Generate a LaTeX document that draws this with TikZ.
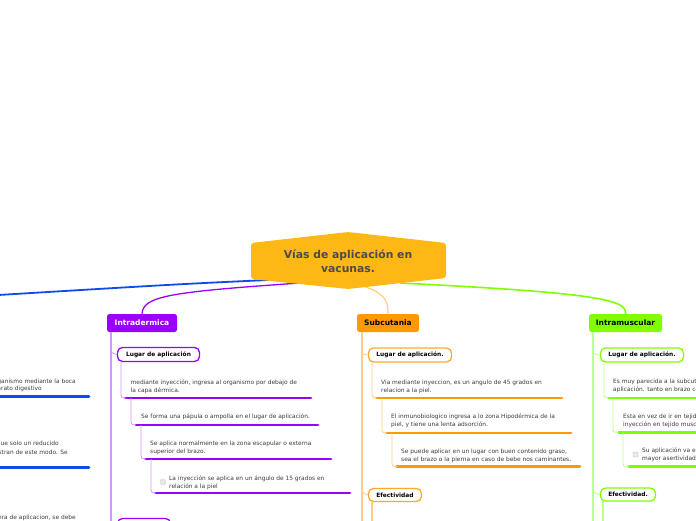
\documentclass[tikz,border=0pt]{standalone}
\usepackage{fontspec}
\setmainfont{DejaVu Sans}
\definecolor{pur}{RGB}{155,0,255}
\definecolor{lpur}{RGB}{210,150,255}
\definecolor{ora}{RGB}{255,153,0}
\definecolor{ora2}{RGB}{255,170,40}
\definecolor{lora}{RGB}{255,205,130}
\definecolor{grn}{RGB}{128,255,0}
\definecolor{lgrn}{RGB}{190,255,140}
\definecolor{blu}{RGB}{15,75,235}
\definecolor{hub}{RGB}{253,184,21}
\definecolor{txt}{RGB}{60,60,60}
\definecolor{ttl}{RGB}{75,75,75}
\begin{document}
\begin{tikzpicture}[x=1pt,y=-1pt,
  body/.style={font=\fontsize{5.9}{8}\selectfont, text=txt, align=left, inner sep=0pt, anchor=north west},
  bodyr/.style={font=\fontsize{5.9}{8}\selectfont, text=txt, inner sep=0pt, anchor=north east},
  ul/.style={line width=2.8pt, line cap=round},
  vline/.style={line width=1.6pt},
  thinc/.style={line width=0.8pt},
  mainbox/.style={rounded corners=2.5pt, minimum height=18pt, inner sep=0pt, font=\fontsize{7.5}{9}\selectfont\bfseries},
  subbox/.style={draw, line width=1.3pt, rounded corners=5pt, fill=white, minimum height=14pt, inner sep=0pt, font=\fontsize{5.9}{7}\selectfont\bfseries, text=black},
  chk/.style={draw=gray!45, fill=gray!18, rounded corners=1pt, minimum size=5pt, inner sep=0pt}
]
\useasboundingbox (0,0) rectangle (696,520);
\clip (0,0) rectangle (696,520);

% ---- hub connectors
\coordinate (hb) at (290,279);
\coordinate (hp) at (300,283);
\coordinate (ho) at (360,285);
\coordinate (hg) at (400,283);
\coordinate (bl) at (-10,295.5);
\draw[blu, line width=1.8pt] (hb) .. controls (180,284) .. (bl);

% ---- main boxes
\node[mainbox, fill=pur, text=white, minimum width=70pt] (idm) at (142,323) {Intradermica};
\node[mainbox, fill=ora, text=black, minimum width=62pt] (sub) at (388,323) {Subcutania};
\node[mainbox, fill=grn, text=black, minimum width=73pt] (imu) at (625.5,323) {Intramuscular};

\draw[pur, line width=1.3pt] (hp) .. controls (170,292) and (143,296) .. (idm.north);
\draw[lora, line width=1.2pt] (ho) .. controls (385,293) and (388,300) .. (sub.north);
\draw[grn, line width=1.6pt] (hg) .. controls (600,293) and (627,300) .. (imu.north);

% ---- hub
\fill[hub, rounded corners=3pt] (251,243) -- (348,232) -- (446,243) -- (446,278) -- (348,289) -- (251,279) -- cycle;
\node[font=\fontsize{10.8}{14}\selectfont\bfseries, text=ttl, align=center, inner sep=0pt] (hubt) at (348,261) {Vías de aplicación en\\vacunas.};

% ================= Intradermica
\draw[lpur, vline] (111,332) -- (111,530);
\node[subbox, draw=pur, minimum width=82pt] (ilug) at (158.5,354.5) {Lugar de aplicación};
\draw[lpur, thinc] (111,346) .. controls (111,353) .. (ilug.west);
\node[subbox, draw=pur, minimum width=53pt] (ieff) at (144,525.5) {};
\draw[lpur, thinc] (111,516) .. controls (111,524) .. (ieff.west);

\node[body] (it1) at (130.5,379.5) {mediante inyección, ingresa al organismo por debajo de\\la capa dérmica.};
\draw[pur, ul] (125.5,398) -- (311,398);
\draw[lpur, thinc] (121,362) -- (121,392) .. controls (121,397.5) .. (126,398);

\node[body] (it2) at (141,414) {Se forma una pápula o ampolla en el lugar de aplicación.};
\draw[pur, ul] (136,425) -- (318,425);
\draw[lpur, thinc] (131,398) -- (131,419) .. controls (131,424.5) .. (136,425);

\node[body] (it3) at (150,440.5) {Se aplica normalmente en la zona escapular o externa\\superior del brazo.};
\draw[pur, ul] (145.5,459) -- (331,459);
\draw[lpur, thinc] (141,425) -- (141,453) .. controls (141,458.5) .. (146,459);

\node[chk] (ic4) at (163,482) {};
\node[body] (it4) at (169,475.5) {La inyección se aplica en un ángulo de 15 grados en\\relación a la piel};
\draw[pur, ul] (155.5,493) -- (350,493);
\draw[lpur, thinc] (151,459) -- (151,487) .. controls (151,492.5) .. (156,493);

% ================= Subcutania
\draw[lora, vline] (362,332) -- (362,530);
\node[subbox, draw=ora2, minimum width=83pt] (slug) at (410,355) {Lugar de aplicación.};
\draw[lora, thinc] (362,347) .. controls (362,354) .. (slug.west);

\node[body] (st1) at (381,379.5) {Via mediante inyeccion, es un angulo de 45 grados en\\relacion a la piel.};
\draw[ora, ul] (376.5,398) -- (562,398);
\draw[lora, thinc] (372,362) -- (372,392) .. controls (372,397.5) .. (377,398);

\node[body] (st2) at (391,414) {El inmunobiologico ingresa a lo zona Hipodérmica de la\\piel, y tiene una lenta adsorción.};
\draw[ora, ul] (386.5,433) -- (571,433);
\draw[lora, thinc] (382,398) -- (382,427) .. controls (382,432.5) .. (387,433);

\node[body] (st3) at (401,448.5) {Se puede aplicar en un lugar con buen contenido graso,\\sea el brazo o la pierna en caso de bebe nos caminantes.};
\draw[ora, ul] (396.5,466.5) -- (580,466.5);
\draw[lora, thinc] (392,433) -- (392,461) .. controls (392,466) .. (397,466.5);

\node[subbox, draw=ora2, minimum width=53pt, minimum height=13pt] (seff) at (395,495) {Efectividad};
\draw[lora, thinc] (362,482) .. controls (362,493) .. (seff.west);
\draw[lora, vline] (372,502) -- (372,530);

% ================= Intramuscular
\draw[lgrn, vline] (593,332) -- (593,530);
\node[subbox, draw=grn, minimum width=83pt] (mlug) at (642,355) {Lugar de aplicación.};
\draw[lgrn, thinc] (593,347) .. controls (593,354) .. (mlug.west);

\node[body] (mt1) at (613,379) {Es muy parecida a la subcutanea\\aplicación. tanto en brazo como};
\draw[grn, ul] (608.5,398) -- (702,398);
\draw[lgrn, thinc] (604,362) -- (604,392) .. controls (604,397.5) .. (609,398);

\node[body] (mt2) at (623,414) {Esta en vez de ir en tejido\\inyección en tejido muscular};
\draw[grn, ul] (618.5,432.5) -- (702,432.5);
\draw[lgrn, thinc] (613,398) -- (613,427) .. controls (613,432) .. (618,432.5);

\node[chk] (mc3) at (635.5,454.5) {};
\node[body] (mt3) at (642,448) {Su aplicación va en\\mayor asertividad};
\draw[grn, ul] (628.5,466.5) -- (702,466.5);
\draw[lgrn, thinc] (623,432.5) -- (623,461) .. controls (623,466) .. (628,466.5);

\node[subbox, draw=grn, minimum width=55pt, minimum height=13pt] (meff) at (628,494.5) {Efectividad.};
\draw[lgrn, thinc] (593,482) .. controls (593,493) .. (meff.west);
\draw[lgrn, vline] (603,501) -- (603,530);

% ================= left (blue) branch, cut by the page edge
\node[bodyr] (bt1) at (76,379) {organismo mediante la boca};
\node[bodyr] (bt1b) at (42,386) {aparato digestivo};
\draw[blu, ul] (-5,396.5) -- (89,396.5);
\node[bodyr] (bt2) at (59,440.5) {que solo un reducido};
\node[bodyr] (bt2b) at (68,449.5) {administran de este modo. Se};
\draw[blu, ul] (-5,467.5) -- (89,467.5);
\node[bodyr] (bt3) at (76,515) {manera de aplicacion, se debe};
\end{tikzpicture}
\end{document}
